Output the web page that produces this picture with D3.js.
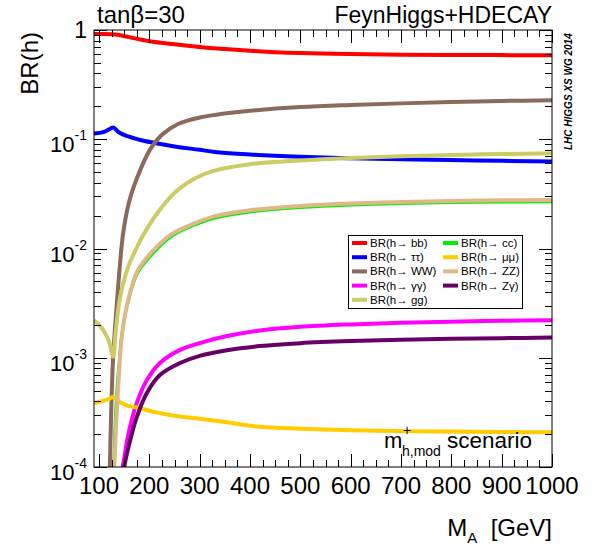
<!DOCTYPE html>
<html>
<head>
<meta charset="utf-8">
<script src="https://cdn.jsdelivr.net/npm/d3@7"></script>
<style>
  body { margin: 0; background: #fff; }
  text { font-family: "Liberation Sans", Arial, sans-serif; fill: #000; }
</style>
</head>
<body>
<script>
const W = 595
const H = 549

// BR(h) vs M_A: [M_A, BR]
const BR_bb = [[90, 0.92], [110, 0.92], [125, 0.915], [140, 0.90], [160, 0.86], [200, 0.79], [250, 0.74],
  [300, 0.70], [350, 0.67], [400, 0.645], [450, 0.627], [500, 0.615], [600, 0.602], [700, 0.595],
  [800, 0.591], [900, 0.589], [1000, 0.588]]
const BR_tautau = [[90, 0.113], [110, 0.117], [120, 0.123], [128, 0.128], [138, 0.117], [158, 0.106],
  [180, 0.099], [211, 0.0925], [250, 0.086], [300, 0.080], [330, 0.0765], [400, 0.0725], [500, 0.069],
  [600, 0.067], [700, 0.0655], [800, 0.0645], [900, 0.0635], [1000, 0.0627]]
const BR_WW = [[121, 0.00008], [124, 0.0003], [127, 0.0008], [131, 0.0017], [138, 0.0045],
  [148, 0.0139], [160, 0.027], [177, 0.0460], [201, 0.080], [225, 0.110], [257, 0.138],
  [300, 0.158], [330, 0.167], [400, 0.182], [500, 0.197], [600, 0.206], [700, 0.213], [800, 0.219],
  [900, 0.224], [1000, 0.228]]
const BR_gamgam = [[145, 0.00009], [150, 0.00012], [156, 0.000177], [165, 0.00027], [175, 0.000386],
  [195, 0.000625], [221, 0.000895], [261, 0.00118], [300, 0.00136], [354, 0.00158], [420, 0.00178],
  [500, 0.00192], [600, 0.00202], [700, 0.00209], [800, 0.00214], [900, 0.00218], [1000, 0.00221]]
const BR_gg = [[90, 0.0022], [100, 0.0020], [110, 0.00175], [120, 0.0014], [128, 0.00102], [133, 0.0017],
  [142, 0.0036], [158, 0.0068], [175, 0.0102], [191, 0.0141], [225, 0.024], [257, 0.0345], [291, 0.044],
  [326, 0.051], [400, 0.059], [500, 0.064], [600, 0.0675], [700, 0.070], [800, 0.0718], [900, 0.0732],
  [1000, 0.0743]]
const BR_cc = [[129, 0.0001], [132, 0.00025], [136, 0.00055], [141, 0.0010], [146, 0.0017], [158, 0.0033],
  [177, 0.0060], [205, 0.0088], [245, 0.0130], [291, 0.0165], [330, 0.0190], [400, 0.0216], [500, 0.0237],
  [600, 0.0250], [700, 0.0258], [800, 0.0263], [900, 0.0266], [1000, 0.0268]]
const BR_mumu = [[90, 0.000385], [110, 0.000405], [120, 0.00042], [128, 0.000437], [138, 0.0004],
  [158, 0.000362], [176, 0.00035], [211, 0.000318], [250, 0.000295], [300, 0.000276], [350, 0.000258],
  [420, 0.000233], [500, 0.000224], [600, 0.000217], [700, 0.000213], [800, 0.000211], [900, 0.000209],
  [1000, 0.000208]]
const BR_ZZ = [[130, 0.00009], [133, 0.0002], [137, 0.00044], [141, 0.0009], [146, 0.00169], [158, 0.0034],
  [177, 0.0063], [205, 0.0093], [245, 0.0136], [291, 0.0171], [330, 0.0198], [400, 0.0224], [500, 0.0245],
  [600, 0.0258], [700, 0.0266], [800, 0.0272], [900, 0.0276], [1000, 0.0278]]
const BR_Zgam = [[148, 0.00009], [155, 0.00013], [165, 0.0002], [175, 0.000287], [195, 0.000476],
  [221, 0.000695], [261, 0.000895], [300, 0.00104], [354, 0.00117], [420, 0.00128], [500, 0.00136],
  [600, 0.00142], [700, 0.00146], [800, 0.00149], [900, 0.00151], [1000, 0.00153]]

const channels = ['bb', 'ττ', 'WW', 'γγ', 'gg', 'cc', 'μμ', 'ZZ', 'Zγ']
const channelData = [BR_bb, BR_tautau, BR_WW, BR_gamgam, BR_gg, BR_cc, BR_mumu, BR_ZZ, BR_Zgam]
const channelColors = ['#ff0000', '#0000ff', '#8b6a5c', '#ff00ff', '#cccc66', '#00ee00', '#ffcc00', '#deb887', '#660066']

const xTicks = [100, 200, 300, 400, 500, 600, 700, 800, 900, 1000]

const frame = { left: 94, right: 552, top: 30, bottom: 467 }

const svg = d3.select('body').append('svg')
  .attr('width', W)
  .attr('height', H)

const x = d3.scaleLinear().domain([90, 1000]).range([frame.left, frame.right])
const y = d3.scaleLog().domain([1e-4, 1]).range([frame.bottom, frame.top])

svg.append('clipPath').attr('id', 'clip')
  .append('rect')
  .attr('x', frame.left).attr('y', frame.top)
  .attr('width', frame.right - frame.left)
  .attr('height', frame.bottom - frame.top)

// curves: peaked ones keep monotone, the rising ones get a smoother spline
const smooth = d3.line()
  .x(d => x(d[0]))
  .y(d => y(d[1]))
  .curve(d3.curveCatmullRom.alpha(0.5))
const monotone = d3.line()
  .x(d => x(d[0]))
  .y(d => y(d[1]))
  .curve(d3.curveMonotoneX)

svg.append('g')
  .attr('clip-path', 'url(#clip)')
  .selectAll('path')
  .data(channelData)
  .join('path')
  .attr('d', (d, i) => (channels[i] === 'ττ' || channels[i] === 'μμ') ? monotone(d) : smooth(d))
  .attr('fill', 'none')
  .attr('stroke', (d, i) => channelColors[i])
  .attr('stroke-width', (d, i) => channels[i] === 'cc' ? 3 : 4)
  .attr('stroke-linejoin', 'round')

// frame + ticks
const axes = svg.append('g').attr('stroke', '#000').attr('stroke-width', 1)

axes.append('rect')
  .attr('x', frame.left).attr('y', frame.top)
  .attr('width', frame.right - frame.left)
  .attr('height', frame.bottom - frame.top)
  .attr('fill', 'none')

y.ticks().forEach(v => {
  const major = Math.abs(Math.log10(v) - Math.round(Math.log10(v))) < 1e-6
  const len = major ? 13 : 7
  const yy = Math.round(y(v)) + 0.5
  axes.append('line').attr('x1', frame.left).attr('x2', frame.left + len).attr('y1', yy).attr('y2', yy)
  axes.append('line').attr('x1', frame.right).attr('x2', frame.right - len).attr('y1', yy).attr('y2', yy)
})

d3.range(100, 1001, 25).forEach(v => {
  const len = v % 100 === 0 ? 13 : 7
  const xx = Math.round(x(v)) + 0.5
  axes.append('line').attr('x1', xx).attr('x2', xx).attr('y1', frame.bottom).attr('y2', frame.bottom - len)
  axes.append('line').attr('x1', xx).attr('x2', xx).attr('y1', frame.top).attr('y2', frame.top + len)
})

// y tick labels
const decades = [0, -1, -2, -3, -4]
decades.forEach(p => {
  const yy = y(Math.pow(10, p))
  if (p === 0) {
    svg.append('text').attr('x', 87).attr('y', yy + 8)
      .attr('text-anchor', 'end').attr('font-size', 23).text('1')
  } else {
    const t = svg.append('text').attr('x', 87).attr('y', yy + 13)
      .attr('text-anchor', 'end').attr('font-size', 22)
    t.append('tspan').text('10')
    t.append('tspan').attr('font-size', 14).attr('dy', -12).text(String(p))
  }
})

// x tick labels
svg.append('g').selectAll('text')
  .data(xTicks)
  .join('text')
  .attr('x', d => x(d))
  .attr('y', 494)
  .attr('text-anchor', 'middle')
  .attr('font-size', 24)
  .text(d => d)

// axis titles
const xt = svg.append('text').attr('x', 552).attr('y', 536)
  .attr('text-anchor', 'end').attr('font-size', 24)
xt.append('tspan').text('M')
xt.append('tspan').attr('font-size', 15).attr('dy', 7).text('A')
xt.append('tspan').attr('dy', -7).text('\u00a0\u00a0[GeV]')

svg.append('text')
  .attr('transform', `translate(38,${frame.top + 2}) rotate(-90)`)
  .attr('text-anchor', 'end')
  .attr('font-size', 24)
  .text('BR(h)')

// header texts
svg.append('text').attr('x', 97).attr('y', 23).attr('font-size', 24).text('tanβ=30')
svg.append('text').attr('x', 552).attr('y', 23).attr('text-anchor', 'end').attr('font-size', 23)
  .text('FeynHiggs+HDECAY')

svg.append('text')
  .attr('transform', 'translate(572,150) rotate(-90)')
  .attr('font-size', 10)
  .attr('font-weight', 'bold')
  .attr('font-style', 'italic')
  .text('LHC HIGGS XS WG 2014')

// scenario label
svg.append('text').attr('x', 384).attr('y', 448).attr('font-size', 22).text('m')
svg.append('text').attr('x', 403).attr('y', 435).attr('font-size', 14).text('+')
svg.append('text').attr('x', 402).attr('y', 456).attr('font-size', 14).text('h,mod')
svg.append('text').attr('x', 447).attr('y', 448).attr('font-size', 22.5).text('scenario')

// legend
const legend = svg.append('g')
legend.append('rect')
  .attr('x', 348.5).attr('y', 235.5).attr('width', 174).attr('height', 73)
  .attr('fill', '#fff').attr('stroke', '#000').attr('stroke-width', 1)

const legendCols = [['bb', 'ττ', 'WW', 'γγ', 'gg'], ['cc', 'μμ', 'ZZ', 'Zγ']]
const colX = [352, 443]
legendCols.forEach((col, ci) => {
  col.forEach((name, ri) => {
    const i = channels.indexOf(name)
    const yy = 243 + ri * 14.2
    legend.append('line')
      .attr('x1', colX[ci]).attr('x2', colX[ci] + 15)
      .attr('y1', yy).attr('y2', yy)
      .attr('stroke', channelColors[i]).attr('stroke-width', 4)
    legend.append('text')
      .attr('x', colX[ci] + 18).attr('y', yy + 4)
      .attr('font-size', 11.5)
      .text(`BR(h\u2192 ${name})`)
  })
})
</script>
</body>
</html>
